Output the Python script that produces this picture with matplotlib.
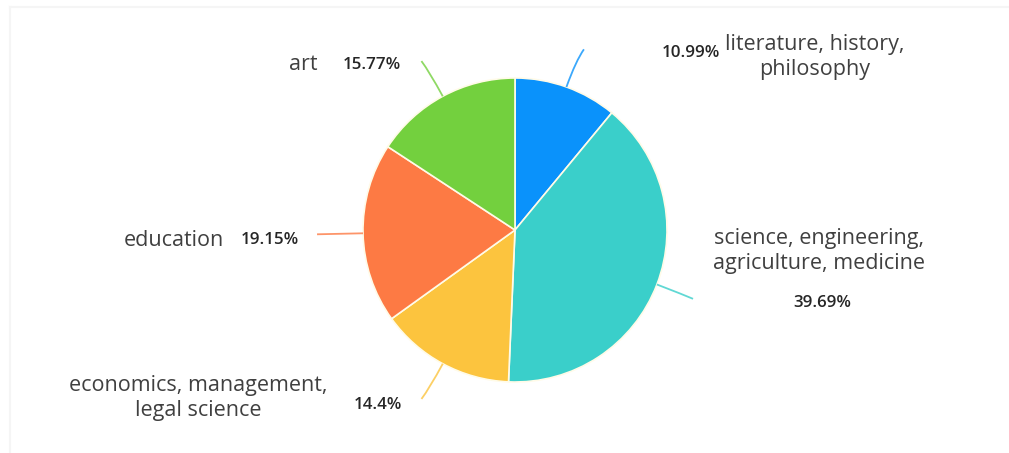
import numpy as np
import matplotlib.pyplot as plt
from matplotlib.path import Path
from matplotlib.patches import PathPatch

# discipline shares (%)
names = ["literature, history,\nphilosophy",
         "science, engineering,\nagriculture, medicine",
         "economics, management,\nlegal science",
         "education",
         "art"]
shares = [10.99, 39.69, 14.4, 19.15, 15.77]
colors = ["#0a92fb", "#3acfca", "#fcc43e", "#fd7a44", "#73d03e"]

W, H = 1009, 453
cx, cy, R = 515, 230, 152

fig = plt.figure(figsize=(W / 100, H / 100), dpi=100)
ax = fig.add_axes([0, 0, 1, 1])

wedges, _ = ax.pie(shares, colors=colors, startangle=90, counterclock=False,
                   center=(cx, H - cy), radius=R,
                   wedgeprops=dict(edgecolor="#fffbe8", linewidth=1.2))
# pie() resets the limits, so work in pixel units afterwards
ax.set_xlim(0, W)
ax.set_ylim(0, H)
ax.set_aspect("equal")
ax.axis("off")

# faint frame along the top and left
ax.plot([10, 10], [0, H - 7], color="#f5f5f5", lw=1.5)
ax.plot([10, W], [H - 7, H - 7], color="#f5f5f5", lw=1.5)

# curved leader lines from each wedge's mid angle
bend = [8, 10, -8, 0, -8]
for w, c, b in zip(wedges, colors, bend):
    ang = np.deg2rad((w.theta1 + w.theta2) / 2)
    ux, uy = np.cos(ang), np.sin(ang)
    p0 = (cx + R * ux, H - cy + R * uy)
    p1 = (cx + (R + 28) * ux, H - cy + (R + 28) * uy)
    p2 = (p1[0] + b, p1[1] + 12 * uy)
    if b == 0:
        p1 = (cx + (R + 20) * ux, H - cy + (R + 20) * uy)
        p2 = (cx + (R + 46) * ux, H - cy + (R + 46) * uy)
    path = Path([p0, p1, p2], [Path.MOVETO, Path.CURVE3, Path.CURVE3])
    ax.add_patch(PathPatch(path, fill=False, edgecolor=c, lw=1.3, alpha=0.8))

name_kw = dict(fontsize=15.5, color="#404040", family="Open Sans",
               linespacing=1.3)
pct_kw = dict(fontsize=12.2, color="#262626", family="Open Sans",
              fontweight="semibold")
pct = [f"{v:g}%" for v in shares]

# literature
ax.text(691, H - 53, pct[0], ha="center", va="center", **pct_kw)
ax.text(815, H - 57, names[0], ha="center", va="center", **name_kw)
# science
ax.text(819, H - 251, names[1], ha="center", va="center", **name_kw)
ax.text(822, H - 303, pct[1], ha="center", va="center", **pct_kw)
# economics
ax.text(198, H - 398, names[2], ha="center", va="center", **name_kw)
ax.text(378, H - 405, pct[2], ha="center", va="center", **pct_kw)
# education
ax.text(224, H - 240, names[3], ha="right", va="center", **name_kw)
ax.text(241, H - 240, pct[3], ha="left", va="center", **pct_kw)
# art
ax.text(318, H - 65, names[4], ha="right", va="center", **name_kw)
ax.text(343, H - 65, pct[4], ha="left", va="center", **pct_kw)

fig.savefig("out.png", dpi=100)
